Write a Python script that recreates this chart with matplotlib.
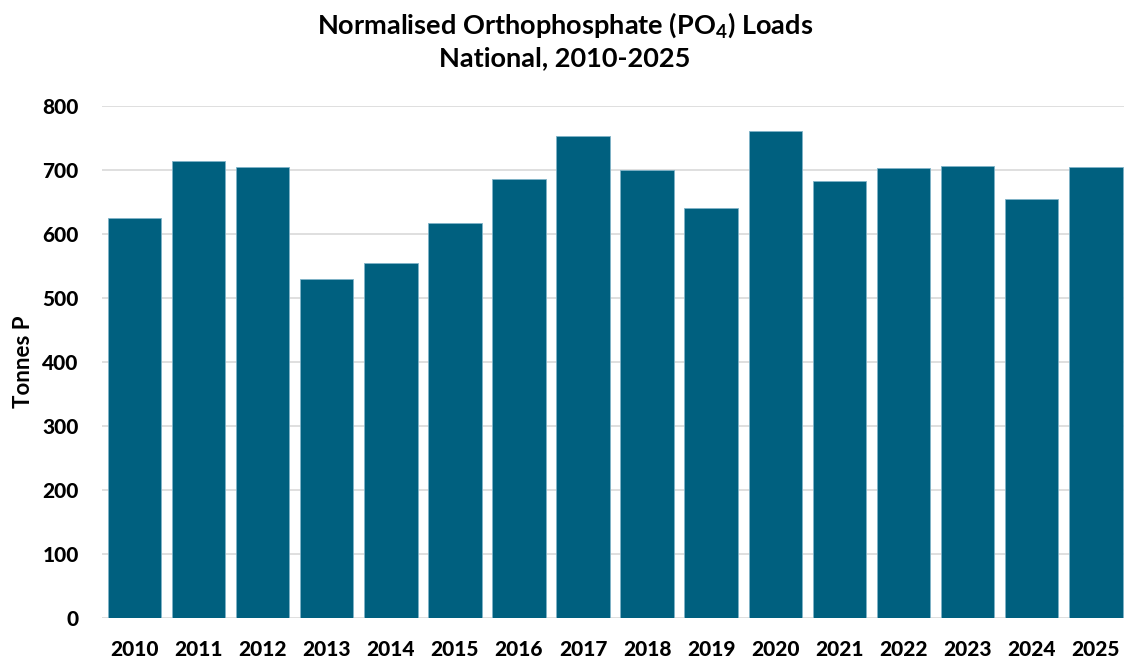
import matplotlib
matplotlib.use("Agg")
import matplotlib.pyplot as plt

years = ["2010", "2011", "2012", "2013", "2014", "2015", "2016", "2017",
         "2018", "2019", "2020", "2021", "2022", "2023", "2024", "2025"]
loads = [624, 713, 705, 529, 554, 616, 685, 753,
         699, 640, 761, 682, 703, 706, 655, 705]
yticks = [0, 100, 200, 300, 400, 500, 600, 700, 800]

plt.rcParams['font.family'] = ['Lato', 'DejaVu Sans']
plt.rcParams['mathtext.fontset'] = 'custom'
plt.rcParams['mathtext.rm'] = 'Lato:bold'
plt.rcParams['mathtext.bf'] = 'Lato:bold'

W, H = 1124, 661
fig = plt.figure(figsize=(W / 100, H / 100), dpi=100)
left, right = 102.4, 1127.8
top, bottom = 105.7, 617.7
ax = fig.add_axes([left / W, (H - bottom) / H, (right - left) / W, (bottom - top) / H])

x = list(range(len(years)))
ax.bar(x, loads, width=0.835, color='#00607F', edgecolor='#7FB3C8', linewidth=0.6, zorder=3)
ax.set_xlim(-0.5, len(years) - 0.5)
ax.set_ylim(0, 800)
ax.set_yticks(yticks)
ax.set_yticklabels([str(v) for v in yticks], fontsize=15, fontweight='black')
ax.set_xticks(x)
ax.set_xticklabels(years, fontsize=15, fontweight='black')
ax.grid(axis='y', color='#D9D9D9', linewidth=1.2, zorder=0)
for s in ax.spines.values():
    s.set_visible(False)
ax.tick_params(axis='x', length=0, pad=16)
ax.tick_params(axis='y', length=0, pad=17)
ax.set_ylabel('Tonnes P', fontsize=16, fontweight='bold', labelpad=6)

fig.text(565 / W, 1 - 25 / H, r'Normalised Orthophosphate (PO$_{4}$) Loads',
         ha='center', va='center', fontsize=19.5, fontweight='bold')
fig.text(565 / W, 1 - 58 / H, 'National, 2010-2025',
         ha='center', va='center', fontsize=19.5, fontweight='bold')

fig.savefig('out.png', dpi=100)
